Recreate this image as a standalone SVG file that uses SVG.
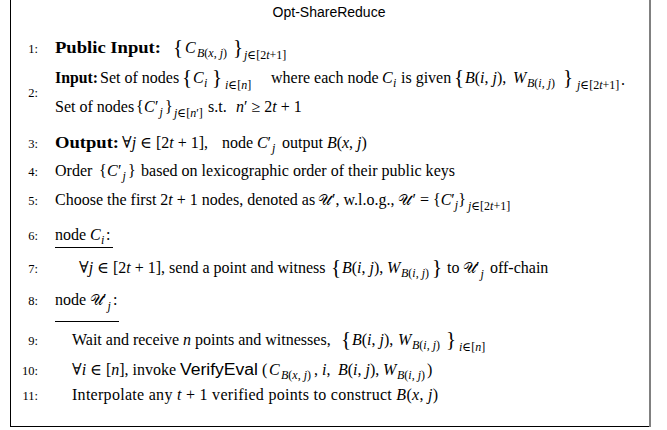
<svg xmlns="http://www.w3.org/2000/svg" width="667" height="430" viewBox="0 0 667 430">
<style>
text{font-family:"Liberation Serif","DejaVu Serif",serif;font-size:16px;fill:#000}
.b{font-weight:bold}
.i{font-style:italic}
.n{font-size:12.5px;text-anchor:end}
.s{font-size:12px}
.g{font-size:21px}
.sf{font-family:"Liberation Sans",sans-serif}
.u{font-family:"DejaVu Sans",sans-serif;font-style:normal;font-size:15px}
.rule{stroke:#000;stroke-width:1}
</style>
<rect width="667" height="430" fill="#fff"/>
<g id="frame">
<line x1="10.5" y1="0" x2="10.5" y2="426.5" stroke="#000" stroke-width="1"/>
<line x1="10" y1="426.5" x2="650" y2="426.5" stroke="#000" stroke-width="1"/>
<line x1="650" y1="0" x2="650" y2="427" stroke="#808080" stroke-width="2"/>
</g>
<g id="title"><text class="sf" x="329" y="17" text-anchor="middle" style="font-size:14px">Opt-ShareReduce</text></g>
<g id="line1">
<text class="n" x="38" y="53">1:</text>
<text class="b" x="55" y="53" textLength="106" lengthAdjust="spacingAndGlyphs">Public Input:</text>
<text y="53"><tspan class="g" x="173" y="54">{</tspan><tspan class="i" x="185" y="53">C</tspan><tspan class="s" x="197" y="57"><tspan class="i">B</tspan>(<tspan class="i">x</tspan>, <tspan class="i">j</tspan>)</tspan><tspan class="g" x="233" y="54">}</tspan><tspan class="s" x="244" y="59"><tspan class="i">j</tspan>∈[2<tspan class="i">t</tspan>+1]</tspan></text>
</g>
<g id="line2">
<text class="n" x="38" y="97">2:</text>
<text class="b" x="55" y="83" textLength="43" lengthAdjust="spacingAndGlyphs">Input:</text>
<text y="83"><tspan x="100">Set of nodes</tspan><tspan class="g" x="182" y="84">{</tspan><tspan class="i" x="193" y="83">C</tspan><tspan class="s i" x="204" y="87">i</tspan><tspan class="g" x="212" y="84">}</tspan><tspan class="s" x="225" y="89"><tspan class="i">i</tspan>∈[<tspan class="i">n</tspan>]</tspan><tspan x="271" y="83">where each node</tspan><tspan class="i" x="382">C</tspan><tspan class="s i" x="393" y="87">i</tspan><tspan x="401" y="83">is given</tspan><tspan class="g" x="454" y="84">{</tspan><tspan x="465" y="83"><tspan class="i">B</tspan>(<tspan class="i">i</tspan>, <tspan class="i">j</tspan>),</tspan><tspan class="i" x="513">W</tspan><tspan class="s" x="527" y="87"><tspan class="i">B</tspan>(<tspan class="i">i</tspan>, <tspan class="i">j</tspan>)</tspan><tspan class="g" x="563" y="84">}</tspan><tspan class="s" x="577" y="89"><tspan class="i">j</tspan>∈[2<tspan class="i">t</tspan>+1]</tspan><tspan x="621" y="85">.</tspan></text>
<text y="112"><tspan x="55">Set of nodes</tspan><tspan x="136">{</tspan><tspan class="i" x="144">C</tspan><tspan x="155">′</tspan><tspan class="s i" x="159.5" y="116">j</tspan><tspan x="165" y="112">}</tspan><tspan class="s" x="174" y="117"><tspan class="i">j</tspan>∈[<tspan class="i">n</tspan>′]</tspan><tspan x="208" y="112">s.t.</tspan><tspan x="236"><tspan class="i">n</tspan>′ ≥ 2<tspan class="i">t</tspan> + 1</tspan></text>
</g>
<g id="line3">
<text class="n" x="38" y="148">3:</text>
<text class="b" x="55" y="148" textLength="64" lengthAdjust="spacingAndGlyphs">Output:</text>
<text y="148"><tspan x="122">∀<tspan class="i">j</tspan> ∈ [2<tspan class="i">t</tspan> + 1],</tspan><tspan x="222">node</tspan><tspan class="i" x="257">C</tspan><tspan x="267.5">′</tspan><tspan class="s i" x="272" y="152">j</tspan><tspan x="282" y="148">output <tspan class="i">B</tspan>(<tspan class="i">x</tspan>, <tspan class="i">j</tspan>)</tspan></text>
</g>
<g id="line4">
<text class="n" x="38" y="176">4:</text>
<text y="176"><tspan x="55">Order</tspan><tspan x="99">{</tspan><tspan class="i" x="107">C</tspan><tspan x="118">′</tspan><tspan class="s i" x="122.5" y="180">j</tspan><tspan x="128" y="176">}</tspan></text>
<text x="141" y="176" textLength="314" lengthAdjust="spacing">based on lexicographic order of their public keys</text>
</g>
<g id="line5">
<text class="n" x="38" y="205">5:</text>
<text x="55" y="205">Choose the first 2<tspan class="i">t</tspan> + 1 nodes, denoted as</text>
<text x="318" y="205"><tspan class="u">𝒰</tspan>′, w.l.o.g., <tspan class="u">𝒰</tspan>′ = {<tspan class="i">C</tspan>′<tspan class="s i" dy="4">j</tspan><tspan dy="-4">}</tspan><tspan class="s" dx="2" dy="5"><tspan class="i">j</tspan>∈[2<tspan class="i">t</tspan>+1]</tspan></text>
</g>
<g id="line6">
<text class="n" x="38" y="240">6:</text>
<text y="240"><tspan x="55">node</tspan><tspan class="i" x="90">C</tspan><tspan class="s i" x="101" y="244">i</tspan><tspan x="106" y="240">:</tspan></text>
<line class="rule" x1="55" y1="247.5" x2="113" y2="247.5"/>
</g>
<g id="line7">
<text class="n" x="38" y="273">7:</text>
<text x="79" y="273">∀<tspan class="i">j</tspan> ∈ [2<tspan class="i">t</tspan> + 1], send a point and witness</text>
<text y="273"><tspan class="g" x="331" y="274">{</tspan><tspan x="342" y="273"><tspan class="i">B</tspan>(<tspan class="i">i</tspan>, <tspan class="i">j</tspan>),</tspan><tspan class="i" x="387">W</tspan><tspan class="s" x="401" y="277"><tspan class="i">B</tspan>(<tspan class="i">i</tspan>, <tspan class="i">j</tspan>)</tspan><tspan class="g" x="432" y="274">}</tspan><tspan x="447" y="273">to</tspan><tspan class="u" x="463">𝒰</tspan><tspan x="476">′</tspan><tspan class="s i" x="480.5" y="278">j</tspan><tspan x="490" y="273">off-chain</tspan></text>
</g>
<g id="line8">
<text class="n" x="38" y="305">8:</text>
<text y="305"><tspan x="55">node</tspan><tspan class="u" x="90">𝒰</tspan><tspan x="103">′</tspan><tspan class="s i" x="107.5" y="310">j</tspan><tspan x="113" y="305">:</tspan></text>
<line class="rule" x1="55" y1="321.5" x2="119" y2="321.5"/>
</g>
<g id="line9">
<text class="n" x="38" y="345">9:</text>
<text x="72" y="345">Wait and receive <tspan class="i">n</tspan> points and witnesses,</text>
<text y="345"><tspan class="g" x="341" y="346">{</tspan><tspan x="352" y="345"><tspan class="i">B</tspan>(<tspan class="i">i</tspan>, <tspan class="i">j</tspan>),</tspan><tspan class="i" x="398">W</tspan><tspan class="s" x="412" y="349"><tspan class="i">B</tspan>(<tspan class="i">i</tspan>, <tspan class="i">j</tspan>)</tspan><tspan class="g" x="446" y="346">}</tspan><tspan class="s" x="459" y="351"><tspan class="i">i</tspan>∈[<tspan class="i">n</tspan>]</tspan></text>
</g>
<g id="line10">
<text class="n" x="38" y="375">10:</text>
<text x="72" y="375">∀<tspan class="i">i</tspan> ∈ [<tspan class="i">n</tspan>], invoke</text>
<text class="sf" x="180" y="375" style="font-size:16px" textLength="78" lengthAdjust="spacingAndGlyphs">VerifyEval</text>
<text y="375"><tspan x="262">(</tspan><tspan class="i" x="269">C</tspan><tspan class="s" x="281" y="379"><tspan class="i">B</tspan>(<tspan class="i">x</tspan>, <tspan class="i">j</tspan>)</tspan><tspan x="314" y="375">, <tspan class="i">i</tspan>,</tspan><tspan x="338"><tspan class="i">B</tspan>(<tspan class="i">i</tspan>, <tspan class="i">j</tspan>),</tspan><tspan class="i" x="383">W</tspan><tspan class="s" x="397" y="379"><tspan class="i">B</tspan>(<tspan class="i">i</tspan>, <tspan class="i">j</tspan>)</tspan><tspan x="427" y="375">)</tspan></text>
</g>
<g id="line11">
<text class="n" x="38" y="400">11:</text>
<text x="72" y="400" textLength="366" lengthAdjust="spacing">Interpolate any <tspan class="i">t</tspan> + 1 verified points to construct <tspan class="i">B</tspan>(<tspan class="i">x</tspan>, <tspan class="i">j</tspan>)</text>
</g>
</svg>
